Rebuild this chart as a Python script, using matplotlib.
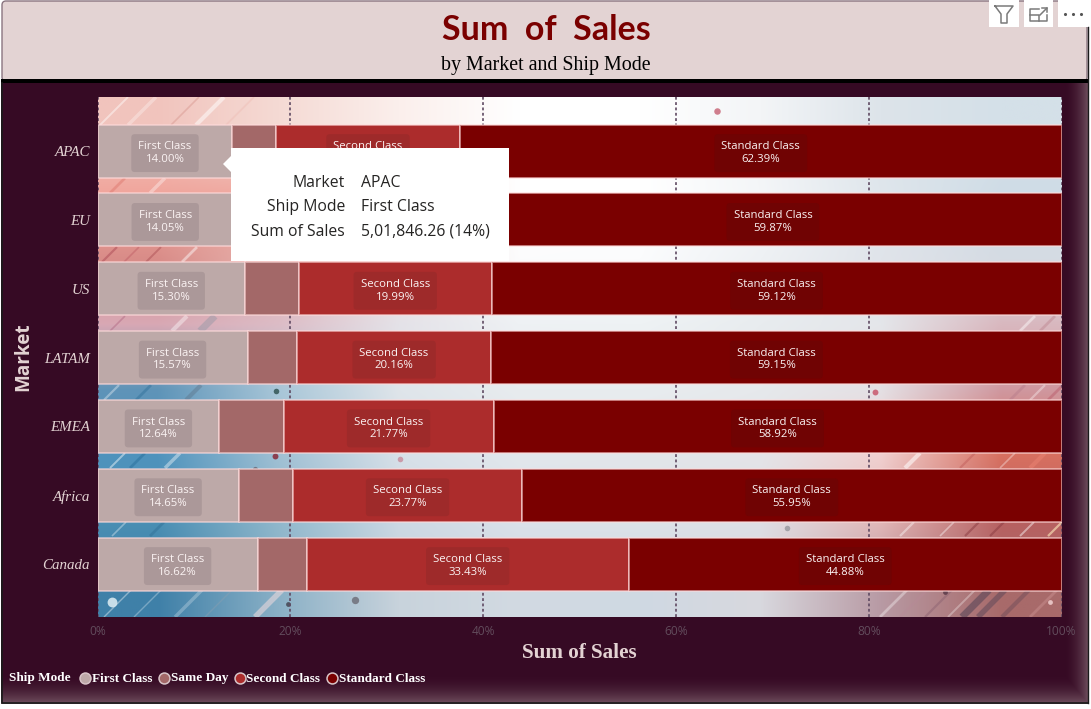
import matplotlib
matplotlib.use("Agg")
import matplotlib.pyplot as plt
import matplotlib.ticker as mtick
from matplotlib.colors import to_rgb
from matplotlib.patches import FancyBboxPatch, Polygon, Rectangle
import numpy as np

# ==========================================================
# 1. Data
# ==========================================================
markets = ["APAC", "EU", "US", "LATAM", "EMEA", "Africa", "Canada"]
ship_modes = ["First Class", "Same Day", "Second Class", "Standard Class"]

first_class = [14.00, 14.05, 15.30, 15.57, 12.64, 14.65, 16.62]
same_day = [4.51, 5.00, 5.59, 5.12, 6.67, 5.63, 5.07]
second_class = [19.10, 21.08, 19.99, 20.16, 21.77, 23.77, 33.43]
standard_class = [62.39, 59.87, 59.12, 59.15, 58.92, 55.95, 44.88]

tooltip_keys = ["Market", "Ship Mode", "Sum of Sales"]
tooltip_values = ["APAC", "First Class", "5,01,846.26 (14%)"]

mode_colors = ["#bda9a8", "#a36868", "#ac2c2c", "#7a0000"]
label_boxes = ["#ab9899", None, "#9e2a2a", "#700303"]
show_label = [True, False, True, True]
# this label sits fully behind the tooltip in the screenshot
covered_label = ("EU", "Second Class")

W, H = 1091, 709
PANEL = "#360a24"
PALE = "#e3d3d3"

# rough colour map of the background photo (rows top to bottom)
photo_rows = [
    ["#f1c4bd", "#f5dad4", "#fbefec", "#ffffff", "#ffffff", "#f3f5f7", "#dde4ea", "#d4e0e8"],
    ["#f0a59c", "#eeaaa2", "#f8e2de", "#ffffff", "#ffffff", "#f4f6f8", "#dfe6ec", "#cfdce6"],
    ["#d98c88", "#e8b5b0", "#f5e0de", "#fcfcfd", "#fbfcfd", "#eef1f4", "#e0e4ea", "#d5dbe3"],
    ["#d8a8b4", "#dcbcc6", "#e4e2e8", "#eef1f4", "#eef2f4", "#e8ecef", "#e4e6ea", "#d9b8bf"],
    ["#5f94b8", "#a8c6d8", "#dfe5ea", "#e8ecef", "#e8ecef", "#e6e9ec", "#e4e0e4", "#cf98a0"],
    ["#4f93bd", "#a0c0d4", "#d7e0e8", "#e2e7ec", "#e2e6ea", "#e4e4e8", "#f0d0d0", "#d87060"],
    ["#4a8fb4", "#90b8cc", "#ccd9e4", "#dbe2ea", "#dde3e9", "#dedfe5", "#e3b8b8", "#b86060"],
    ["#3f80a8", "#8ab0c6", "#c8d3dc", "#d2dae2", "#cfd9e3", "#d8d8de", "#b89aa4", "#a86a6a"],
]

# photo texture, in screenshot pixels: x start, strip top, strip bottom, colour, alpha, width
photo_streaks = [
    (100, 125, 97, "white", 0.45, 1.4), (128, 125, 97, "white", 0.3, 2.5),
    (171, 125, 97, "#d99a92", 0.5, 1.2), (196, 125, 97, "white", 0.5, 3.0),
    (226, 125, 97, "#eebcb4", 0.45, 1.2),
    (110, 193, 178, "#e07a70", 0.5, 2.0), (150, 193, 178, "white", 0.35, 2.5),
    (102, 262, 247, "#b0505a", 0.55, 1.6), (124, 262, 247, "#c06068", 0.5, 1.2),
    (146, 262, 247, "#a84a50", 0.45, 1.4), (182, 262, 247, "white", 0.45, 2.0),
    (110, 331, 316, "#a85a78", 0.4, 1.2), (172, 331, 316, "white", 0.4, 3.0),
    (200, 331, 316, "#9a9aa8", 0.5, 5.0), (1020, 331, 316, "white", 0.45, 2.0),
    (1040, 331, 316, "#c08a94", 0.5, 2.0),
    (104, 400, 385, "white", 0.35, 1.6), (136, 400, 385, "#2f6f98", 0.45, 2.0),
    (186, 400, 385, "#5a6f84", 0.4, 3.0), (1010, 400, 385, "#b27888", 0.4, 2.0),
    (1030, 400, 385, "white", 0.35, 1.6), (1048, 400, 385, "#b85868", 0.45, 2.0),
    (110, 468, 453, "white", 0.45, 1.4), (130, 468, 453, "#2a6f9c", 0.5, 2.0),
    (165, 468, 453, "white", 0.4, 2.5), (905, 468, 453, "white", 0.55, 3.0),
    (960, 468, 453, "#c05a58", 0.45, 1.6), (1000, 468, 453, "white", 0.35, 1.2),
    (1030, 468, 453, "#e88070", 0.6, 3.0),
    (112, 536, 522, "white", 0.35, 1.2), (150, 536, 522, "#2d6b92", 0.4, 2.0),
    (900, 536, 522, "white", 0.4, 1.6), (940, 536, 522, "white", 0.4, 1.2),
    (965, 536, 522, "#8a3a40", 0.5, 1.6), (990, 536, 522, "#8a3a40", 0.5, 1.6),
    (1020, 536, 522, "white", 0.45, 1.4), (1048, 536, 522, "#f4d8b0", 0.7, 1.6),
    (104, 617, 590, "white", 0.4, 1.0), (134, 617, 590, "white", 0.3, 1.0),
    (175, 617, 590, "white", 0.25, 2.5), (205, 617, 590, "#8ea0b0", 0.4, 1.0),
    (255, 617, 590, "#e8d8dc", 0.6, 4.0), (880, 617, 590, "white", 0.35, 2.0),
    (900, 617, 590, "#b88a98", 0.4, 2.0), (925, 617, 590, "#8a6070", 0.45, 1.6),
    (948, 617, 590, "white", 0.3, 1.4), (962, 617, 590, "#5a4658", 0.6, 5.0),
    (978, 617, 590, "#5a4658", 0.5, 4.0), (1002, 617, 590, "#6a4a58", 0.45, 3.0),
    (1030, 617, 590, "#d8a0a0", 0.35, 2.0),
]

# small circuit nodes in the photo, in screenshot pixels
photo_nodes = [
    (717, 111, "#c8697a", 22), (875, 392, "#c8586c", 18), (255, 469, "#6a6a78", 14),
    (787, 528, "#9a9aa0", 16), (112, 602, "#e0eef4", 50), (355, 600, "#6f6f7a", 28),
    (288, 604, "#444450", 12), (945, 592, "#5a3a48", 12), (1050, 602, "#f0d0d0", 12),
    (275, 456, "#8a2a3a", 18), (400, 459, "#c890a0", 16), (276, 391, "#355", 16),
]


def to_pct(px_x):
    return (px_x - 97.5) / 9.64


def to_band(px_y):
    return (px_y - 151) / 68.83


# ==========================================================
# 2. Page: header band, dark panel, edge glow
# ==========================================================
fig = plt.figure(figsize=(W / 100, H / 100), dpi=100, facecolor="white")

page = fig.add_axes([0, 0, 1, 1], zorder=0)
page.set_xlim(0, W)
page.set_ylim(H, 0)
page.axis("off")

page.add_patch(FancyBboxPatch((2, 1), 1085, 80, boxstyle="round,pad=0,rounding_size=4",
                              facecolor=PALE, edgecolor="#8a7580", linewidth=1))
page.add_patch(Rectangle((1, 79), 1087, 4, facecolor="black", edgecolor="none"))

# panel gets lighter near its right and bottom edges
px, py = np.meshgrid(np.arange(1087), np.arange(621))
glow = np.maximum(np.clip((px - 1062) / 25, 0, 1), np.clip((py - 590) / 30, 0, 1)) ** 2
dark = np.array(to_rgb(PANEL))
edge = np.array(to_rgb("#70505f"))
page.imshow(dark + (edge - dark) * glow[..., None], extent=(1, 1088, 704, 83),
            aspect="auto", zorder=1)
page.set_xlim(0, W)
page.set_ylim(H, 0)
page.plot([2, 2, 1088], [83, 703, 703], color="#1a1a1a", linewidth=1.2, zorder=2)
page.plot([1088, 1088], [27, 703], color="#1a1a1a", linewidth=1.0, zorder=2)

# ==========================================================
# 3. Plot area
# ==========================================================
ax = fig.add_axes([97.5 / W, (H - 617) / H, 964 / W, 520 / H], zorder=1)

photo = np.array([[to_rgb(c) for c in row] for row in photo_rows])
ax.imshow(photo, extent=(0, 100, 6.77, -0.785), aspect="auto",
          interpolation="bilinear", zorder=0)

for start, y0, y1, color, alpha, width in photo_streaks:
    run = y0 - y1
    ax.plot([to_pct(start), to_pct(start + run)], [to_band(y0), to_band(y1)],
            color=color, alpha=alpha, linewidth=width, zorder=0.2,
            solid_capstyle="butt")
for node_x, node_y, color, size in photo_nodes:
    ax.scatter(to_pct(node_x), to_band(node_y), s=size, color=color, linewidth=0,
               alpha=0.85, zorder=0.3)

ax.set_xlim(0, 100)
ax.set_ylim(6.77, -0.785)

ax.set_axisbelow(True)
ax.grid(axis="x", color="#5f4a62", linestyle=(0, (1.7, 1.5)), linewidth=1.2)

# ==========================================================
# 4. Stacked bars and labels
# ==========================================================
series = [first_class, same_day, second_class, standard_class]
y_pos = np.arange(len(markets))
left = np.zeros(len(markets))

for i, values in enumerate(series):
    values = np.array(values)
    ax.barh(y_pos, values, left=left, height=53 / 68.83, color=mode_colors[i],
            edgecolor=(1, 0.86, 0.86, 0.62), linewidth=1.3, zorder=2)
    if show_label[i]:
        for market, y, start, v in zip(markets, y_pos, left, values):
            if (market, ship_modes[i]) == covered_label:
                continue
            ax.annotate(f"{ship_modes[i]}\n{v:.2f}%", xy=(start + v / 2, y),
                        xytext=(0, -1.5), textcoords="offset points",
                        ha="center", va="center", fontsize=8.2, family="Open Sans",
                        color="#fbf3f3", linespacing=1.22, zorder=3,
                        bbox=dict(boxstyle="round,pad=0.62,rounding_size=0.3",
                                  facecolor=label_boxes[i], edgecolor="none"))
    left += values

# ==========================================================
# 5. Axes styling
# ==========================================================
for spine in ax.spines.values():
    spine.set_visible(False)

ax.set_yticks(y_pos)
ax.set_yticklabels(markets, family="Liberation Serif", style="italic",
                   fontsize=10.8, color=PALE)
ax.tick_params(axis="y", length=0, pad=5.5)

ax.xaxis.set_major_locator(mtick.MultipleLocator(20))
ax.xaxis.set_major_formatter(mtick.PercentFormatter(decimals=0))
ax.tick_params(axis="x", length=0, pad=5.5, labelsize=8.6, labelcolor="#624c5c")
for label in ax.get_xticklabels():
    label.set_family("Open Sans")
# the photo ends at 100%, no gridline shows there
ax.get_xgridlines()[-1].set_visible(False)

ax.set_xlabel("Sum of Sales", family="Liberation Serif", fontweight="bold",
              fontsize=15.2, color=PALE, labelpad=4)
fig.text(23 / W, 1 - 357 / H, "Market", rotation=90, ha="center", va="center",
         family="Open Sans", fontweight="bold", fontsize=13.6, color=PALE)

# ==========================================================
# 6. Title, legend, tooltip, header icons (drawn in pixels)
# ==========================================================
top = fig.add_axes([0, 0, 1, 1], zorder=5)
top.set_xlim(0, W)
top.set_ylim(H, 0)
top.axis("off")
top.patch.set_alpha(0)

top.text(546, 30, "Sum  of  Sales", ha="center", va="center", family="Lato",
         fontweight="bold", fontsize=24.5, color="#7a0000")
top.text(546, 70, "by Market and Ship Mode", ha="center", va="baseline",
         family="Liberation Serif", fontsize=14.4, color="black")

legend_font = dict(family="Liberation Serif", fontweight="bold", fontsize=9.5,
                   color="white", va="baseline")
top.text(9, 681.5, "Ship Mode", **legend_font)
for name, color, mark_x in zip(ship_modes, mode_colors, [85, 164, 239.5, 332]):
    top.scatter(mark_x, 678, s=62, color=color, edgecolor="#d8c4c8", linewidth=1.1)
    top.text(mark_x + 7, 681.5, name, **legend_font)

top.add_patch(Rectangle((231, 148), 278, 113, facecolor="white", edgecolor="none"))
top.add_patch(Polygon([(223, 164), (232, 155), (232, 173)], facecolor="white",
                      edgecolor="none"))
for row_y, key, value in zip([187, 211, 236], tooltip_keys, tooltip_values):
    top.text(345, row_y, key, ha="right", va="baseline", family="Open Sans",
             fontsize=11.3, color="#252423")
    top.text(361, row_y, value, ha="left", va="baseline", family="Open Sans",
             fontsize=11.3, color="#252423")

for x0, x1 in [(989, 1019), (1024, 1053), (1058, 1088)]:
    top.add_patch(Rectangle((x0, 0), x1 - x0, 27, facecolor="white", edgecolor="none"))
icon_grey = "#7a7a7a"
top.plot([995, 1013, 1007, 1007, 1001, 1001, 995], [6, 6, 14, 23, 23, 14, 6],
         color=icon_grey, linewidth=1.1)
top.plot([1039, 1030, 1030, 1047, 1047], [9, 9, 21, 21, 15], color=icon_grey, linewidth=1.1)
top.plot([1030, 1039, 1039], [15, 15, 21], color=icon_grey, linewidth=1.1)
top.plot([1040, 1047], [15, 8], color=icon_grey, linewidth=1.1)
top.plot([1042, 1047, 1047], [8, 8, 12], color=icon_grey, linewidth=1.1)
top.scatter([1065, 1073, 1081], [14, 14, 14], s=5, color="#555555", linewidth=0)

fig.savefig("out.png", dpi=100, facecolor="white")
